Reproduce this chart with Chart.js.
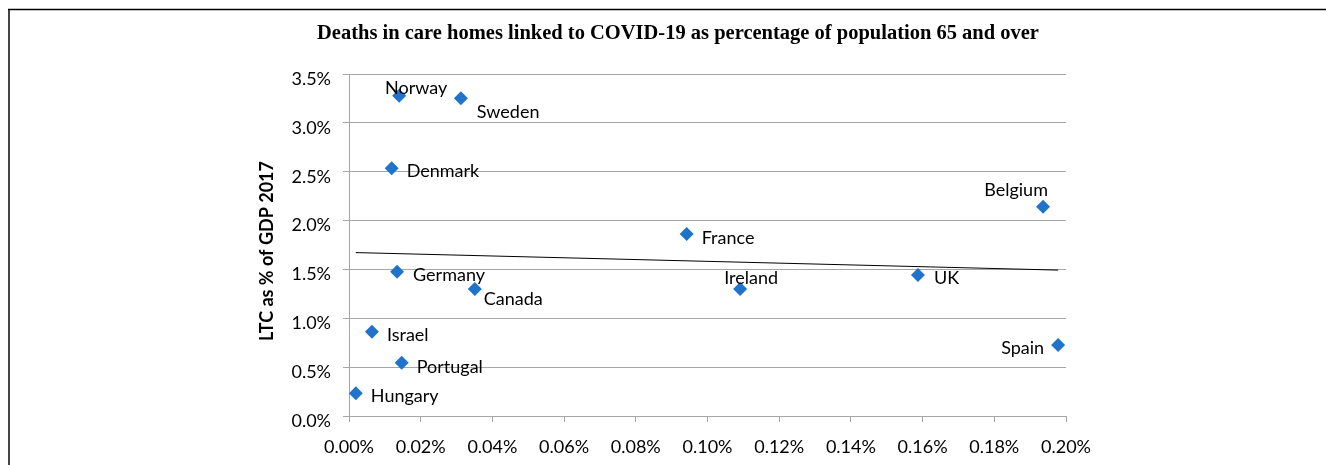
<!DOCTYPE html>
<html><head><meta charset="utf-8">
<script src="https://cdn.jsdelivr.net/npm/chart.js@4.4.1/dist/chart.umd.min.js"></script>
<style>html,body{margin:0;padding:0;background:#fff;overflow:hidden}#wrap{width:1326px;height:465px;position:relative}</style>
</head><body><div id="wrap"><canvas id="c" width="1326" height="465"></canvas></div>
<script>
// ---- data ----
const countries = ['Norway','Sweden','Denmark','Belgium','France','Germany','Canada','Ireland','UK','Israel','Portugal','Hungary','Spain'];
const careHomeDeathsPct = [0.0140,0.0312,0.0119,0.1936,0.0942,0.0134,0.0351,0.1091,0.1587,0.0064,0.0147,0.0019,0.1978];
const ltcGdpPct = [3.278,3.251,2.535,2.142,1.863,1.477,1.300,1.300,1.443,0.863,0.545,0.232,0.727];
const xTickValues = [0,0.02,0.04,0.06,0.08,0.10,0.12,0.14,0.16,0.18,0.20];
const yTickValues = [0,0.5,1.0,1.5,2.0,2.5,3.0,3.5];
const chartTitle = 'Deaths in care homes linked to COVID-19 as percentage of population 65 and over';
const yAxisTitle = 'LTC as % of GDP 2017';

// ---- label placement (style) ----
const labelPlacement = {
  Norway:{align:'center',dx:17,dy:-8}, Sweden:{align:'left',dx:16,dy:14},
  Denmark:{align:'left',dx:15,dy:3}, Belgium:{align:'center',dx:-27,dy:-17},
  France:{align:'left',dx:15,dy:4}, Germany:{align:'left',dx:16,dy:4},
  Canada:{align:'left',dx:9,dy:10}, Ireland:{align:'center',dx:11,dy:-11},
  UK:{align:'left',dx:16,dy:3}, Israel:{align:'left',dx:15,dy:4},
  Portugal:{align:'left',dx:15,dy:4}, Hungary:{align:'left',dx:15,dy:3},
  Spain:{align:'right',dx:-14,dy:3}
};

// linear trendline (least squares) from the data
const n = careHomeDeathsPct.length;
const mx = careHomeDeathsPct.reduce((a,b)=>a+b,0)/n;
const my = ltcGdpPct.reduce((a,b)=>a+b,0)/n;
let sxy=0,sxx=0;
for(let i=0;i<n;i++){sxy+=(careHomeDeathsPct[i]-mx)*(ltcGdpPct[i]-my);sxx+=(careHomeDeathsPct[i]-mx)**2;}
const slope=sxy/sxx, icpt=my-slope*mx;
const xMin=Math.min(...careHomeDeathsPct), xMax=Math.max(...careHomeDeathsPct);
const trend=[{x:xMin,y:icpt+slope*xMin},{x:xMax,y:icpt+slope*xMax}];

const LABEL_FONT = '18px Lato';
const CHART_TOP=74, CHART_BOTTOM=416, CHART_LEFT=349, CHART_RIGHT=1066;

const decorPlugin = {
  id:'decor',
  beforeDraw(chart){
    const ctx=chart.ctx;
    ctx.save();
    ctx.fillStyle='#fff';ctx.fillRect(0,0,chart.width,chart.height);
    ctx.strokeStyle='#444';ctx.lineWidth=2;
    ctx.beginPath();ctx.moveTo(9,9);ctx.lineTo(9,chart.height);ctx.stroke();
    ctx.strokeStyle='#000';ctx.lineWidth=1.5;
    ctx.beginPath();ctx.moveTo(8,9.5);ctx.lineTo(chart.width,9.5);ctx.stroke();
    // title
    ctx.fillStyle='#000';ctx.font='bold 20.5px "Liberation Serif"';
    ctx.textAlign='center';ctx.textBaseline='middle';
    ctx.fillText(chartTitle,678,34);
    // y axis title
    ctx.translate(267,251);ctx.rotate(-Math.PI/2);
    ctx.font='bold 18px Lato';
    ctx.fillText(yAxisTitle,0,0);
    ctx.restore();
  },
  afterDatasetsDraw(chart){
    const ctx=chart.ctx;
    const meta=chart.getDatasetMeta(0);
    ctx.save();
    ctx.font=LABEL_FONT;ctx.fillStyle='#000';ctx.textBaseline='middle';
    meta.data.forEach((pt,i)=>{
      const p=labelPlacement[countries[i]];
      ctx.textAlign=p.align;
      ctx.fillText(countries[i],pt.x+p.dx,pt.y+p.dy);
    });
    ctx.restore();
  }
};

new Chart(document.getElementById('c'),{
  type:'scatter',
  data:{datasets:[
    {label:'Countries',data:countries.map((c,i)=>({x:careHomeDeathsPct[i],y:ltcGdpPct[i]})),
     pointStyle:'rectRot',pointRadius:7,pointHoverRadius:7,backgroundColor:'#1f73cb',borderColor:'#1f73cb',borderWidth:0,order:0},
    {label:'Trend',type:'line',data:trend,borderColor:'#000',borderWidth:1,pointRadius:0,fill:false,order:1}
  ]},
  options:{
    responsive:false,animation:false,devicePixelRatio:1,
    layout:{padding:{top:CHART_TOP,left:0,right:1326-CHART_RIGHT,bottom:0}},
    plugins:{legend:{display:false},tooltip:{enabled:false},title:{display:false}},
    scales:{
      x:{type:'linear',min:0,max:0.2,
        afterBuildTicks(s){s.ticks=xTickValues.map(v=>({value:v}));},
        afterFit(s){s.height=465-CHART_BOTTOM;},
        grid:{drawOnChartArea:false,drawTicks:true,tickLength:6,color:'#a6a6a6'},
        border:{display:true,color:'#a6a6a6',width:1},
        ticks:{padding:14,color:'#000',font:{family:'Lato',size:18},maxRotation:0,autoSkip:false,
          callback:v=>v.toFixed(2)+'%'}},
      y:{type:'linear',min:0,max:3.5,
        afterBuildTicks(s){s.ticks=yTickValues.map(v=>({value:v}));},
        afterFit(s){s.width=CHART_LEFT;},
        grid:{drawOnChartArea:true,drawTicks:true,tickLength:6,color:'#a6a6a6'},
        border:{display:true,color:'#a6a6a6',width:1},
        ticks:{padding:12,labelOffset:5,color:'#000',font:{family:'Lato',size:18},
          callback:v=>v.toFixed(1)+'%'}}
    }
  },
  plugins:[decorPlugin]
});
</script></body></html>
